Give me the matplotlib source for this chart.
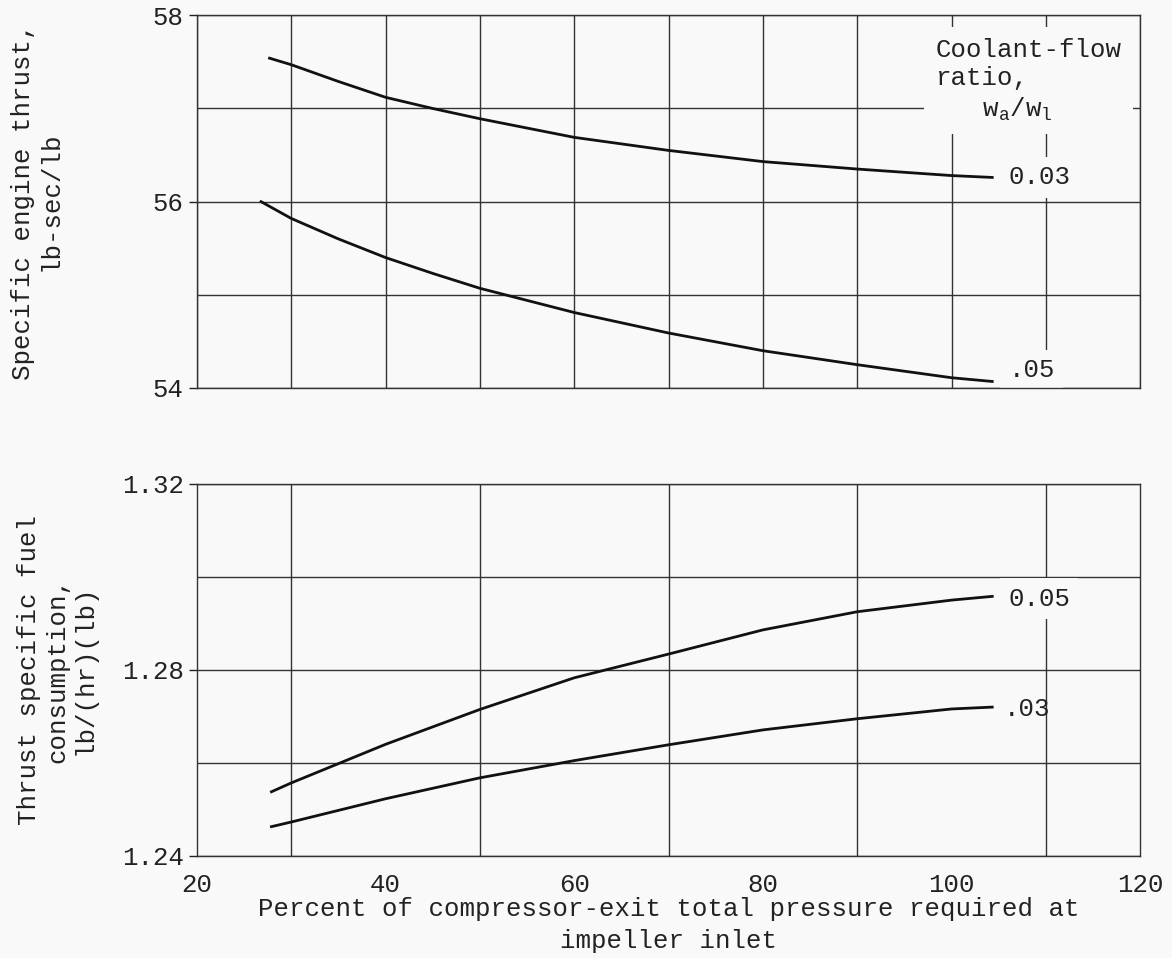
import matplotlib.pyplot as plt

plt.rcParams['font.family'] = ['Liberation Mono', 'DejaVu Sans Mono']
plt.rcParams['mathtext.fontset'] = 'custom'
plt.rcParams['mathtext.rm'] = 'Liberation Mono'
plt.rcParams['mathtext.it'] = 'Liberation Mono'

# Percent of compressor-exit total pressure required at impeller inlet
x_thrust = [27.7, 30, 35, 40, 45, 50, 60, 70, 80, 90, 100, 104.3]
thrust_003 = [57.54, 57.47, 57.29, 57.12, 57.0, 56.89, 56.69, 56.55, 56.43, 56.35, 56.28, 56.26]
x_thrust_05 = [26.8, 30, 35, 40, 45, 50, 60, 70, 80, 90, 100, 104.3]
thrust_005 = [56.0, 55.82, 55.60, 55.40, 55.23, 55.07, 54.81, 54.59, 54.40, 54.25, 54.11, 54.07]

x_sfc = [27.9, 30, 40, 50, 60, 70, 80, 90, 100, 104.3]
sfc_005 = [1.2538, 1.2557, 1.2640, 1.2715, 1.2783, 1.2834, 1.2886, 1.2925, 1.2950, 1.2958]
sfc_003 = [1.2463, 1.2473, 1.2523, 1.2568, 1.2605, 1.2639, 1.2671, 1.2695, 1.2716, 1.2720]

bg = '#f9f9f9'
ink = '#222222'
grid_col = '#333333'
fs = 18.5

fig = plt.figure(figsize=(11.72, 9.58), dpi=100, facecolor=bg)
ax1 = fig.add_axes([0.168, 0.595, 0.805, 0.389])
ax2 = fig.add_axes([0.168, 0.1065, 0.805, 0.3885])

for ax in (ax1, ax2):
    ax.set_facecolor(bg)
    ax.set_xlim(20, 120)
    ax.set_xticks(range(20, 121, 10), minor=True)
    ax.grid(True, which='minor', axis='x', color=grid_col, lw=1.0)
    ax.grid(True, which='both', axis='y', color=grid_col, lw=1.0)
    ax.set_axisbelow(True)
    for s in ax.spines.values():
        s.set_color(grid_col)
        s.set_linewidth(1.0)
        s.set_zorder(5)
    ax.tick_params(axis='x', which='both', length=0, labelsize=fs, colors=ink, pad=12)
    ax.tick_params(axis='y', which='major', length=6, width=1.0, labelsize=fs, colors=ink)
    ax.tick_params(axis='y', which='minor', length=0)

# top panel: specific engine thrust
ax1.set_ylim(54, 58)
ax1.set_yticks([54, 56, 58])
ax1.set_yticks([55, 57], minor=True)
ax1.set_xticks([])
ax1.plot(x_thrust, thrust_003, color='#111111', lw=2.0, zorder=4)
ax1.plot(x_thrust_05, thrust_005, color='#111111', lw=2.0, zorder=4)
ax1.set_ylabel('Specific engine thrust,\nlb-sec/lb', fontsize=fs, color=ink, linespacing=1.2)
ax1.yaxis.set_label_coords(-0.142, 0.5)

box = dict(facecolor=bg, edgecolor='none', pad=6)
ax1.text(98.3, 57.76, 'Coolant-flow\nratio,\n   $\\mathrm{w_a/w_l}$', fontsize=fs, color=ink,
         ha='left', va='top', linespacing=1.25,
         bbox=dict(facecolor=bg, edgecolor='none', boxstyle='square,pad=0.45'), zorder=2.2)
ax1.text(106, thrust_003[-1], '0.03', fontsize=fs, color=ink, ha='left', va='center', bbox=box, zorder=2.2)
ax1.text(106, thrust_005[-1] + 0.12, '.05', fontsize=fs, color=ink, ha='left', va='center', bbox=box, zorder=2.2)

# bottom panel: thrust specific fuel consumption
ax2.set_ylim(1.24, 1.32)
ax2.set_yticks([1.24, 1.28, 1.32])
ax2.set_yticklabels(['1.24', '1.28', '1.32'])
ax2.set_yticks([1.26, 1.30], minor=True)
ax2.set_xticks(range(20, 121, 20))
ax2.plot(x_sfc, sfc_005, color='#111111', lw=2.0, zorder=4)
ax2.plot(x_sfc, sfc_003, color='#111111', lw=2.0, zorder=4)
ax2.set_ylabel('Thrust specific fuel\nconsumption,\nlb/(hr)(lb)', fontsize=fs, color=ink, linespacing=1.2)
ax2.yaxis.set_label_coords(-0.106, 0.5)
ax2.text(106, sfc_005[-1] - 0.0005, '0.05', fontsize=fs, color=ink, ha='left', va='center', bbox=box, zorder=2.2)
ax2.text(105.5, sfc_003[-1] - 0.0005, '.03', fontsize=fs, color=ink, ha='left', va='center', zorder=3)
ax2.set_xlabel('Percent of compressor-exit total pressure required at\nimpeller inlet',
               fontsize=fs, color=ink, linespacing=1.45, labelpad=0)

fig.savefig('out.png', dpi=100, facecolor=bg)
